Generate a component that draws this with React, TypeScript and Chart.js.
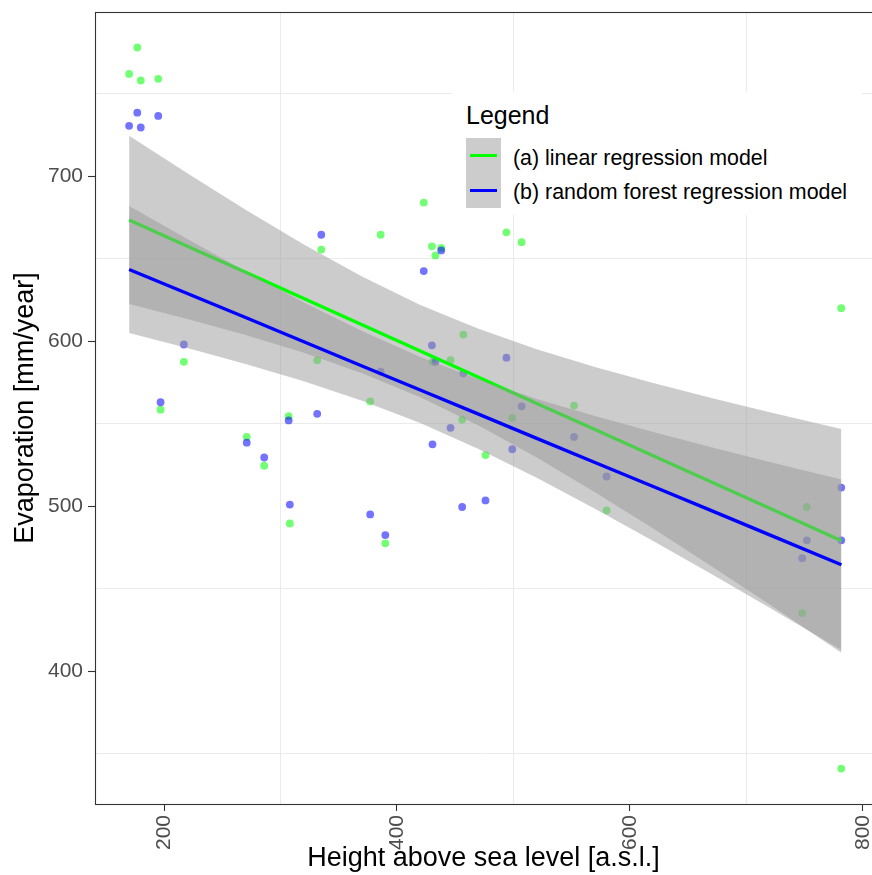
import React, { useEffect, useRef } from "react";
import { Chart, registerables } from "chart.js";

Chart.register(...registerables);

// ---- Observed stations (height a.s.l. and evaporation per model) ----
const heights = [170, 177, 180, 195, 197, 217, 271, 286, 307, 308, 331.5, 335, 377, 386, 390, 423, 430, 430.5, 433, 438, 446, 456, 457, 476, 494, 499, 507, 552, 580, 748, 752, 781.5, 781.5];
const evapLinear = [762, 778, 758, 759, 558.5, 587.5, 542, 524.5, 554.5, 489.5, 588.5, 655.5, 563.5, 664.5, 477.5, 684, 657.5, 587.5, 652, 656.5, 588.5, 552.5, 604, 531, 666, 553.5, 660, 561, 497.5, 435.2, 499.5, 620, 341];
const evapForest = [730.5, 738.5, 729.5, 736.5, 563, 598, 538.5, 529.5, 552, 501, 556, 664.5, 495, 581.5, 482.5, 642.5, 597.5, 537.5, 587.5, 655, 547.5, 499.5, 580.5, 503.5, 590, 534.5, 560.5, 542, 518, 468.5, 479.3, 511.3, 479.3];

// ---- Smoothed fits with confidence ribbons ----
const fitHeights = [170, 220, 270, 320, 370, 420, 470, 520, 570, 620, 670, 720, 781.6];
const linearFit = [673.5, 657.6, 641.7, 625.8, 609.9, 594, 578.2, 562.3, 546.4, 530.5, 514.6, 498.7, 479];
const linearUpper = [724.5, 701.7, 679.6, 658.6, 639.2, 622, 607.5, 595.1, 584.3, 574.6, 565.6, 557, 546.8];
const linearLower = [622.5, 613.5, 603.8, 593, 580.6, 566, 548.9, 529.5, 508.5, 486.4, 463.6, 440.4, 411.2];
const forestFit = [643.5, 628.9, 614.3, 599.6, 585, 570.4, 555.8, 541.1, 526.5, 511.9, 497.3, 482.6, 464.5];
const forestUpper = [682, 661.9, 642.4, 623.5, 606.1, 590.4, 576.9, 565, 554.6, 544.9, 535.7, 526.8, 516.1];
const forestLower = [605, 595.9, 586.2, 575.7, 563.9, 550.4, 534.7, 517.2, 498.4, 478.9, 458.9, 438.4, 412.9];

// ---- Axes ----
const xTickValues = [200, 300, 400, 500, 600, 700, 800];
const xTickLabels = [200, 400, 600, 800];
const yTickValues = [350, 400, 450, 500, 550, 600, 650, 700, 750];
const yTickLabels = [400, 500, 600, 700];

const seriesNames = ["(a) linear regression model", "(b) random forest regression model"];

const FONT = "'Liberation Sans', Arial, Helvetica, sans-serif";

export default function App() {
  const ref = useRef<HTMLCanvasElement>(null);

  useEffect(() => {
    const canvas = ref.current;
    if (!canvas) return;
    Chart.defaults.font.family = FONT;

    const pts = (ys: number[]) => heights.map((x, i) => ({ x, y: ys[i] }));
    const fit = (ys: number[]) => fitHeights.map((x, i) => ({ x, y: ys[i] }));
    const ribbonFill = "rgba(153,153,153,0.5)";
    const clear = "rgba(0,0,0,0)";

    const frame = {
      id: "frame",
      afterDatasetsDraw(chart: any) {
        const { ctx, chartArea: a } = chart;
        ctx.save();
        ctx.strokeStyle = "#333333";
        ctx.lineWidth = 1.1;
        ctx.strokeRect(a.left + 0.5, a.top + 0.5, a.right - a.left + 20, a.bottom - a.top);
        ctx.restore();
      },
    };

    const chart = new Chart(canvas, {
      type: "scatter",
      data: {
        datasets: [
          {
            label: seriesNames[0] + " points",
            data: pts(evapLinear),
            backgroundColor: "rgba(0,255,0,0.55)",
            borderColor: clear,
            borderWidth: 0,
            pointRadius: 3.9,
            order: 10,
          },
          {
            label: seriesNames[1] + " points",
            data: pts(evapForest),
            backgroundColor: "rgba(0,0,255,0.55)",
            borderColor: clear,
            borderWidth: 0,
            pointRadius: 3.9,
            order: 9,
          },
          {
            label: "ribbon a upper",
            data: fit(linearUpper),
            showLine: true,
            borderColor: clear,
            borderWidth: 0,
            pointRadius: 0,
            fill: "+1",
            backgroundColor: ribbonFill,
            order: 8,
          },
          {
            label: "ribbon a lower",
            data: fit(linearLower),
            showLine: true,
            borderColor: clear,
            borderWidth: 0,
            pointRadius: 0,
            fill: false,
            order: 8,
          },
          {
            label: seriesNames[0],
            data: fit(linearFit),
            showLine: true,
            borderColor: "#00FF00",
            borderWidth: 3.3,
            pointRadius: 0,
            fill: false,
            order: 7,
          },
          {
            label: "ribbon b upper",
            data: fit(forestUpper),
            showLine: true,
            borderColor: clear,
            borderWidth: 0,
            pointRadius: 0,
            fill: "+1",
            backgroundColor: ribbonFill,
            order: 6,
          },
          {
            label: "ribbon b lower",
            data: fit(forestLower),
            showLine: true,
            borderColor: clear,
            borderWidth: 0,
            pointRadius: 0,
            fill: false,
            order: 6,
          },
          {
            label: seriesNames[1],
            data: fit(forestFit),
            showLine: true,
            borderColor: "#0000FF",
            borderWidth: 3.3,
            pointRadius: 0,
            fill: false,
            order: 5,
          },
        ],
      },
      options: {
        responsive: false,
        maintainAspectRatio: false,
        animation: false,
        devicePixelRatio: 1,
        events: [],
        layout: { autoPadding: false, padding: { top: 12, left: 0, right: 0, bottom: 0 } },
        plugins: {
          legend: { display: false },
          tooltip: { enabled: false },
        },
        scales: {
          x: {
            type: "linear",
            min: 140.7,
            max: 807.9,
            afterBuildTicks: (s: any) => {
              s.ticks = xTickValues.map((v) => ({ value: v }));
            },
            afterFit: (s: any) => {
              s.height = 71;
              s.paddingLeft = 0;
              s.paddingRight = 0;
            },
            border: { display: false },
            grid: {
              color: (c: any) => (c.tick && xTickLabels.includes(c.tick.value) ? clear : "#EBEBEB"),
              lineWidth: 1,
              tickColor: (c: any) => (c.tick && xTickLabels.includes(c.tick.value) ? "#333333" : clear),
              tickLength: 7,
              tickWidth: 1.1,
            },
            ticks: {
              autoSkip: false,
              minRotation: 90,
              maxRotation: 90,
              padding: 4,
              color: "#4D4D4D",
              font: { size: 21, family: FONT },
              callback: (v: any) => (xTickLabels.includes(Number(v)) ? String(v) : ""),
            },
            title: {
              display: true,
              text: "Height above sea level [a.s.l.]",
              color: "#000000",
              font: { size: 27, family: FONT },
              padding: { top: 0, bottom: 0 },
            },
          },
          y: {
            type: "linear",
            min: 319.5,
            max: 799.5,
            afterBuildTicks: (s: any) => {
              s.ticks = yTickValues.map((v) => ({ value: v }));
            },
            afterFit: (s: any) => {
              s.width = 95;
              s.paddingTop = 0;
              s.paddingBottom = 0;
            },
            border: { display: false },
            grid: {
              color: (c: any) => (c.tick && yTickLabels.includes(c.tick.value) ? clear : "#EBEBEB"),
              lineWidth: 1,
              tickColor: (c: any) => (c.tick && yTickLabels.includes(c.tick.value) ? "#333333" : clear),
              tickLength: 7,
              tickWidth: 1.1,
            },
            ticks: {
              autoSkip: false,
              padding: 5,
              color: "#4D4D4D",
              font: { size: 21, family: FONT },
              callback: (v: any) => (yTickLabels.includes(Number(v)) ? String(v) : ""),
            },
            title: {
              display: true,
              text: "Evaporation [mm/year]",
              color: "#000000",
              font: { size: 27, family: FONT },
              padding: { top: 9, bottom: 0 },
            },
          },
        },
      } as any,
      plugins: [frame],
    });

    return () => chart.destroy();
  }, []);

  const keyBox: React.CSSProperties = {
    position: "absolute",
    left: 14,
    width: 35,
    height: 35,
    background: "#CCCCCC",
  };
  const keyLine = (color: string): React.CSSProperties => ({
    position: "absolute",
    left: 4,
    top: 16,
    width: 27,
    height: 3,
    background: color,
  });
  const labelStyle: React.CSSProperties = {
    position: "absolute",
    left: 61,
    fontSize: 21.4,
    lineHeight: "21px",
    color: "#000000",
    whiteSpace: "nowrap",
  };

  return (
    <div style={{ position: "absolute", left: 0, top: 0, width: 872, height: 875, background: "#ffffff", fontFamily: FONT }}>
      <canvas ref={ref} width={872} height={875} style={{ display: "block" }} />
      <div style={{ position: "absolute", left: 452, top: 92, width: 410, height: 123, background: "#ffffff" }}>
        <div style={{ position: "absolute", left: 14, top: 10.8, fontSize: 25, lineHeight: "25px", color: "#000000", whiteSpace: "nowrap" }}>
          Legend
        </div>
        <div style={{ ...keyBox, top: 46 }}>
          <div style={keyLine("#00FF00")} />
        </div>
        <div style={{ ...keyBox, top: 81 }}>
          <div style={keyLine("#0000FF")} />
        </div>
        <div style={{ ...labelStyle, top: 56.2 }}>{seriesNames[0]}</div>
        <div style={{ ...labelStyle, top: 90.2 }}>{seriesNames[1]}</div>
      </div>
    </div>
  );
}
